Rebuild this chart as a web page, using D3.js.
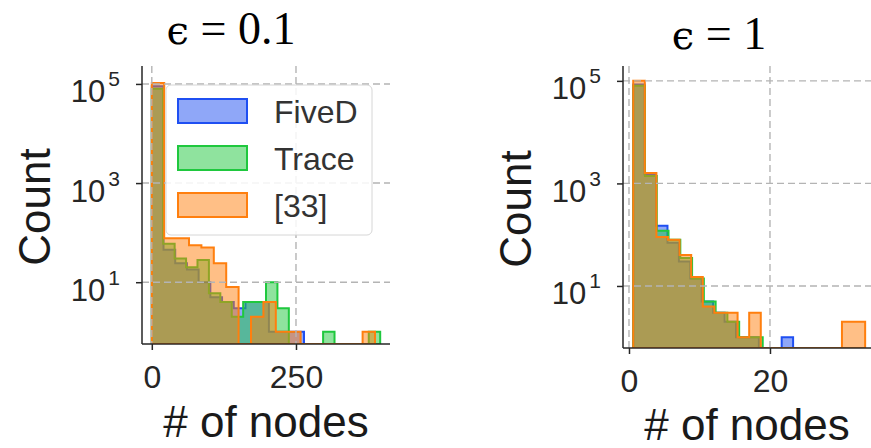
<!DOCTYPE html>
<html>
<head>
<meta charset="utf-8">
<script src="https://cdn.jsdelivr.net/npm/d3@7/dist/d3.min.js"></script>
<style>
  body { margin: 0; background: #fff; }
  text { font-family: "Liberation Sans", Arial, sans-serif; }
</style>
</head>
<body>
<svg id="chart" width="871" height="448"></svg>
<script>
var seriesNames = ["FiveD", "Trace", "[33]"];
var seriesColors = ["#1f4ff2", "#1fc83e", "#ff7f0e"];

var yTicks = [10, 1000, 100000];

// epsilon = 0.1 : [bin start, bin width] and counts per bin
var eps01XTicks = [0, 250];
var eps01FiveDBin = [0, 20.3];
var eps01FiveDCounts = [90000, 45, 24, 18, 10, 5, 4, 3, 4, 4, 1, 1, 1];
var eps01TraceBin = [0, 19.8];
var eps01TraceCounts = [80000, 60, 30, 20, 28, 6, 4, 2, 4, 4, 10, 3, 0, 0, 0, 1, 0, 0, 0, 1];
var eps01RefBin = [0, 21.5];
var eps01RefCounts = [105000, 77, 77, 56, 50, 24, 8, 0, 2, 4, 1, 1, 0, 0, 0, 0, 0, 1];

// epsilon = 1
var eps1XTicks = [0, 20];
var eps1FiveDBin = [0.6, 1.62];
var eps1FiveDCounts = [85000, 1500, 150, 70, 30, 14, 5, 3, 2, 1, 1, 0, 0, 1];
var eps1TraceBin = [0.6, 1.67];
var eps1TraceCounts = [80000, 1400, 120, 80, 35, 14, 5, 3, 2, 1, 1];
var eps1RefBin = [0.6, 1.645];
var eps1RefCounts = [100000, 1600, 90, 80, 40, 15, 4, 3, 3, 1, 3, 0, 0, 0, 0, 0, 0, 0, 2, 2];

var svg = d3.select("#chart");
svg.append("rect").attr("width", 871).attr("height", 448).attr("fill", "#fff");

function drawPanel(p) {
    var g = svg.append("g");
    var x = d3.scaleLinear().domain(p.xDomain).range([p.left, p.right]);
    var y = d3.scaleLog().domain(p.yDomain).range([p.bottom, p.top]);
    var base = p.bottom;

    var clipId = "clip" + p.id;
    g.append("clipPath").attr("id", clipId)
        .append("rect")
        .attr("x", p.left).attr("y", p.top - 10)
        .attr("width", p.right - p.left).attr("height", p.bottom - p.top + 10);

    var area = d3.area()
        .x(function(d) { return x(d.x); })
        .y0(base)
        .y1(function(d) { return d.c > 0 ? y(d.c) : base; });

    function stepPoints(bin, counts) {
        var pts = [{ x: bin[0], c: 0 }];
        counts.forEach(function(c, i) {
            pts.push({ x: bin[0] + i * bin[1], c: c });
            pts.push({ x: bin[0] + (i + 1) * bin[1], c: c });
        });
        pts.push({ x: bin[0] + counts.length * bin[1], c: 0 });
        return pts;
    }

    var bars = g.append("g").attr("clip-path", "url(#" + clipId + ")");
    p.series.forEach(function(s, i) {
        bars.append("path")
            .attr("d", area(stepPoints(s.bin, s.counts)))
            .attr("fill", seriesColors[i])
            .attr("fill-opacity", 0.5)
            .attr("stroke", seriesColors[i])
            .attr("stroke-width", 2)
            .attr("stroke-linejoin", "miter");
    });

    // dashed grid
    var grid = g.append("g")
        .attr("stroke", "#b4b4b4")
        .attr("stroke-width", 1.4)
        .attr("stroke-dasharray", "7,4");
    grid.selectAll(".hg").data(yTicks).enter().append("line")
        .attr("x1", p.left).attr("x2", p.right)
        .attr("y1", function(d) { return y(d); })
        .attr("y2", function(d) { return y(d); });
    grid.selectAll(".vg").data(p.xTicks).enter().append("line")
        .attr("y1", p.top).attr("y2", p.bottom)
        .attr("x1", function(d) { return x(d); })
        .attr("x2", function(d) { return x(d); });

    // legend
    if (p.legend) {
        var lg = g.append("g").attr("transform", "translate(" + (p.left + 24) + "," + (p.top + 19) + ")");
        lg.append("rect")
            .attr("width", 206).attr("height", 150).attr("rx", 5)
            .attr("fill", "#fff").attr("fill-opacity", 0.85)
            .attr("stroke", "#d6d6d6").attr("stroke-width", 1);
        var items = lg.selectAll(".item").data(seriesNames).enter().append("g")
            .attr("transform", function(d, i) { return "translate(12," + (14 + i * 47) + ")"; });
        items.append("rect")
            .attr("width", 69).attr("height", 24)
            .attr("fill", function(d, i) { return seriesColors[i]; })
            .attr("fill-opacity", 0.5)
            .attr("stroke", function(d, i) { return seriesColors[i]; })
            .attr("stroke-width", 2);
        items.append("text")
            .attr("x", 96).attr("y", 24)
            .attr("font-size", 32).attr("fill", "#333")
            .text(function(d) { return d; });
    }

    // axes
    var yAxis = g.append("g")
        .attr("transform", "translate(" + p.left + ",0)")
        .call(d3.axisLeft(y).tickValues(yTicks).tickSize(6).tickPadding(16).tickSizeOuter(0));
    yAxis.select(".domain").remove();
    yAxis.selectAll(".tick line").attr("stroke", "#262626").attr("stroke-width", 1.5);
    yAxis.selectAll(".tick text").each(function(d) {
        var t = d3.select(this);
        t.text(null).attr("font-size", 31).attr("fill", "#262626").attr("dy", "0.58em")
            .attr("font-family", "'Liberation Sans', Arial, sans-serif");
        t.append("tspan").text("10");
        t.append("tspan").attr("dx", 3).attr("dy", -16).attr("font-size", 21)
            .text(Math.round(Math.log10(d)));
    });

    var xAxis = g.append("g")
        .attr("transform", "translate(0," + p.bottom + ")")
        .call(d3.axisBottom(x).tickValues(p.xTicks).tickSize(6).tickPadding(15).tickSizeOuter(0));
    xAxis.select(".domain").remove();
    xAxis.selectAll(".tick line").attr("stroke", "#262626").attr("stroke-width", 1.5);
    xAxis.selectAll(".tick text")
        .attr("font-size", 32).attr("fill", "#262626")
        .attr("font-family", "'Liberation Sans', Arial, sans-serif");

    g.append("line")
        .attr("x1", p.left).attr("x2", p.left).attr("y1", p.top).attr("y2", p.bottom)
        .attr("stroke", "#262626").attr("stroke-width", 1.5);
    g.append("line")
        .attr("x1", p.left).attr("x2", p.right).attr("y1", p.bottom).attr("y2", p.bottom)
        .attr("stroke", "#262626").attr("stroke-width", 1.5);

    // labels
    g.append("text")
        .attr("transform", "translate(" + (p.left - 92) + "," + ((p.top + p.bottom) / 2 + 2) + ") rotate(-90)")
        .attr("text-anchor", "middle")
        .attr("font-size", 44).attr("fill", "#1a1a1a")
        .text("Count");
    g.append("text")
        .attr("x", (p.left + p.right) / 2).attr("y", p.xLabelY)
        .attr("text-anchor", "middle")
        .attr("font-size", 44).attr("fill", "#1a1a1a")
        .text("# of nodes");

    // title
    var title = g.append("text")
        .attr("x", p.titleX).attr("y", p.titleY)
        .attr("text-anchor", "middle")
        .attr("font-size", 46).attr("fill", "#000")
        .style("font-family", "'Liberation Serif', 'DejaVu Serif', serif");
    title.append("tspan").style("font-family", "'DejaVu Serif', serif").attr("font-size", 40).text("\u03F5");
    title.append("tspan").text(" = " + p.eps);
}

drawPanel({
    id: "a", left: 142, right: 390, top: 66, bottom: 344,
    xDomain: [-17, 413], yDomain: [0.567, 230000], xTicks: eps01XTicks,
    series: [
        { bin: eps01FiveDBin, counts: eps01FiveDCounts },
        { bin: eps01TraceBin, counts: eps01TraceCounts },
        { bin: eps01RefBin, counts: eps01RefCounts }
    ],
    legend: true, xLabelY: 437, titleX: 231, titleY: 44, eps: "0.1"
});

drawPanel({
    id: "b", left: 623, right: 871, top: 66, bottom: 348,
    xDomain: [-0.85, 34.33], yDomain: [0.617, 195000], xTicks: eps1XTicks,
    series: [
        { bin: eps1FiveDBin, counts: eps1FiveDCounts },
        { bin: eps1TraceBin, counts: eps1TraceCounts },
        { bin: eps1RefBin, counts: eps1RefCounts }
    ],
    legend: false, xLabelY: 440, titleX: 719, titleY: 49, eps: "1"
});
</script>
</body>
</html>
